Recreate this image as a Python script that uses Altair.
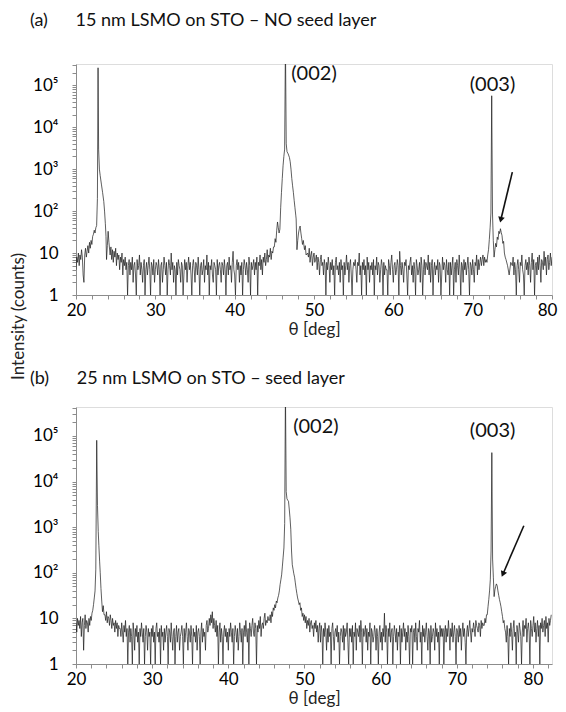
import altair as alt
import pandas as pd

FONT = "Lato"
STEP = 0.1

# ---------------- Panel (a): 15 nm LSMO on STO - NO seed layer ----------------
A_BG0_START = 20.0
A_BG0 = [4, 8, 6, 10, 5, 9, 7, 12, 8, 3, 2, 9, 13, 8, 11, 15, 10, 18, 13, 20, 16, 25]
A_P1_T = [22.2, 22.3, 22.4, 22.5, 22.6, 22.7, 22.78, 22.85, 22.95, 23.05, 23.2, 23.35,
          23.5, 23.6, 23.7, 23.78, 23.85, 23.95, 24.05, 24.15]
A_P1_Y = [28, 35, 30, 40, 45, 200, 260000, 3000, 1000, 700, 440, 280, 170, 100, 50, 25,
          7, 15, 33, 18]
A_BG1_START = 24.3
A_BG1 = [9, 14, 7, 12, 6, 11, 8, 13, 5, 10,
         7, 9, 4, 8, 6, 10, 3, 7, 5, 8,
         4, 6, 1, 5, 7, 3, 6, 4, 8, 2, 5, 6, 3, 1, 7, 4, 5, 9, 3, 6,
         4, 2, 5, 7, 1, 4, 6, 3, 5, 8, 4, 1, 6, 5, 3, 7, 2, 4, 6, 5,
         3, 7, 4, 1, 5, 6, 2, 4, 8, 5, 3, 6, 1, 4, 7, 5, 3, 10, 4, 6,
         2, 5, 4, 1, 6, 3, 7, 5, 4, 2, 6, 5, 1, 3, 7, 4, 6, 2, 5, 8,
         4, 6, 3, 1, 5, 7, 4, 2, 6, 5, 3, 8, 4, 1, 5, 6, 3, 4, 7, 2,
         5, 4, 9, 3, 6, 1, 5, 4, 7, 3, 2, 6, 5, 4, 1, 7, 3, 5, 6, 4,
         2, 6, 5, 3, 7, 4, 1, 5, 6, 3, 8, 4, 5, 2, 6, 11, 4, 3, 1, 5,
         7, 4, 6, 2, 5, 3, 6, 1, 4, 7, 5, 3, 6, 4, 2, 8, 5, 1, 6, 4,
         5, 7, 3, 6, 4, 8, 1, 6, 5, 9, 4, 7, 3, 8, 6, 10, 5, 7, 12, 6,
         9, 8, 13, 7, 11, 10, 14]
A_P2_T = [45.0, 45.1, 45.2, 45.3, 45.4, 45.5, 45.6, 45.7, 45.8, 45.9, 46.0, 46.1, 46.2,
          46.3, 46.4, 46.5, 46.6, 46.75, 46.9, 47.0, 47.1, 47.2, 47.3, 47.4, 47.5, 47.6,
          47.7, 47.75, 47.85, 47.95, 48.05, 48.15, 48.25, 48.35, 48.45, 48.55, 48.65,
          48.8, 48.9, 49.0]
A_P2_Y = [14, 22, 18, 35, 55, 40, 30, 37, 120, 280, 600, 1200, 2000, 3000, 1000000,
          4000, 2600, 2300, 1900, 1500, 1000, 600, 400, 280, 180, 120, 80, 65, 12, 20,
          30, 38, 44, 30, 22, 16, 20, 12, 15, 9]
A_BG2_START = 49.2
A_BG2 = [10, 8, 13, 6, 9, 11, 5, 8, 10, 6,
         7, 9, 4, 8, 6, 3, 7, 9, 5, 6,
         3, 7, 5, 1, 6, 4, 8, 5, 2, 6, 4, 7, 3, 5, 1, 6, 8, 4, 5, 3,
         6, 2, 7, 4, 5, 1, 6, 3, 5, 9, 4, 6, 2, 5, 7, 3, 1, 4, 6, 5,
         7, 4, 2, 6, 5, 10, 3, 5, 1, 6, 4, 7, 3, 5, 1, 8, 4, 6, 2, 5,
         4, 6, 3, 7, 1, 5, 4, 8, 3, 6, 5, 2, 4, 7, 5, 1, 6, 3, 5, 4,
         4, 1, 7, 5, 3, 6, 9, 4, 2, 5, 6, 3, 4, 7, 5, 1, 11, 5, 3, 6,
         4, 2, 6, 5, 7, 3, 1, 5, 4, 6, 8, 3, 5, 2, 6, 4, 1, 7, 5, 3,
         4, 6, 2, 8, 5, 1, 4, 7, 3, 6, 5, 4, 9, 3, 6, 2, 5, 7, 1, 4,
         6, 3, 5, 4, 7, 2, 6, 5, 1, 3, 8, 4, 6, 5, 2, 7, 4, 3, 6, 1,
         6, 3, 5, 8, 1, 4, 6, 2, 7, 5, 3, 9, 4, 1, 6, 5, 2, 7, 4, 6,
         3, 5, 8, 4, 1, 6, 5, 3, 7, 4, 2, 6, 5, 9, 3, 7, 4, 6, 8, 5,
         7, 9, 5, 8, 6, 7]
A_P3_T = [71.8, 71.9, 72.0, 72.1, 72.2, 72.3, 72.4, 72.5, 72.6, 72.7, 72.8, 72.9, 73.0,
          73.1, 73.2, 73.3, 73.4, 73.5, 73.6, 73.7, 73.8, 73.9, 74.0, 74.1, 74.2, 74.4,
          74.6, 74.8]
A_P3_Y = [6, 9, 12, 21, 40, 90, 56000, 85, 20, 8, 12, 17, 14, 24, 21, 33, 29, 38, 31, 26,
          17, 19, 10, 8, 7, 5, 3, 6]
A_BG3_START = 75.0
A_BG3 = [5, 8, 3, 6, 4, 1, 5, 7, 4, 2, 6, 5, 9, 4, 3, 1, 5, 7, 4, 6,
         3, 8, 5, 2, 6, 10, 4, 7, 1, 5, 6, 3, 8, 4, 9, 5, 2, 7, 6, 4,
         11, 5, 8, 3, 7, 9, 4, 6, 10, 5, 8]

# ---------------- Panel (b): 25 nm LSMO on STO - seed layer ----------------
B_BG0_START = 20.0
B_BG0 = [8, 5, 10, 7, 9, 6, 11, 4, 8, 10, 2, 7, 12, 6, 9, 8, 5, 10, 7, 11, 9, 13]
B_P1_T = [22.2, 22.3, 22.4, 22.5, 22.6, 22.72, 22.82, 22.92, 23.0, 23.1, 23.18, 23.28,
          23.38, 23.48, 23.58, 23.68]
B_P1_Y = [15, 20, 28, 40, 120, 80000, 3000, 800, 400, 180, 100, 45, 24, 14, 19, 12]
B_BG1_START = 23.8
B_BG1 = [12, 9, 14, 8, 11, 10, 7, 12, 9, 6,
         10, 7, 8, 5, 9, 6, 8, 4, 7, 6,
         6, 4, 8, 5, 3, 7, 5, 9, 4, 6, 1, 5, 7, 3, 6, 4, 1, 8, 5, 2,
         6, 4, 7, 3, 5, 1, 6, 4, 8, 5, 3, 6, 1, 4, 7, 5, 2, 6, 4, 5,
         1, 6, 4, 7, 3, 5, 1, 6, 8, 4, 5, 3, 6, 1, 7, 4, 5, 2, 6, 3,
         5, 7, 4, 1, 6, 5, 3, 8, 4, 2, 5, 6, 1, 4, 7, 3, 5, 6, 2, 4,
         5, 7, 4, 1, 6, 3, 5, 8, 4, 2, 6, 5, 3, 7, 4, 1, 6, 4, 5, 3,
         7, 2, 5, 6, 4, 1, 5, 8, 3, 6, 4, 5, 2, 7, 9, 5, 6, 10, 7, 12,
         8, 14, 6, 10, 7, 5, 9, 4, 7, 1, 5, 8, 3, 6, 4, 1, 5, 7, 4, 6,
         3, 5, 2, 6, 4, 8, 5, 3, 6, 1, 4, 7, 5, 3, 6, 2, 4, 8, 5, 3,
         6, 1, 5, 7, 4, 9, 5, 3, 6, 1, 8, 6, 4, 7, 10, 5, 4, 8, 6, 1,
         7, 5, 9, 6, 11, 4, 7, 8, 6, 10, 13, 7, 9, 8, 11, 9]
B_P2_T = [45.4, 45.5, 45.6, 45.7, 45.8, 45.9, 46.0, 46.1, 46.2, 46.3,
          46.4, 46.5, 46.6, 46.7, 46.8, 46.9, 47.0, 47.1, 47.2, 47.3,
          47.4, 47.5, 47.6, 47.7, 47.8, 47.9, 48.0, 48.1, 48.2, 48.3,
          48.4, 48.5, 48.6, 48.7, 48.8, 48.9, 49.0, 49.1, 49.2, 49.3,
          49.4, 49.5, 49.6, 49.7, 49.8, 49.9, 50.0]
B_P2_Y = [9, 12, 8, 14, 11, 17, 15, 20, 17, 24,
          22, 28, 32, 40, 55, 70, 90, 140, 220, 350,
          1200, 1000000, 6000, 4200, 3900, 3700, 2500, 1600, 900, 300,
          150, 120, 95, 80, 60, 45, 35, 28, 24, 20,
          22, 15, 17, 11, 13, 9, 12]
B_BG2_START = 50.1
B_BG2 = [8, 11, 6, 9, 7, 10, 5, 8, 9, 6,
         7, 4, 8, 6, 9, 5, 7, 3, 6, 8,
         3, 7, 5, 1, 6, 4, 8, 5, 2, 6, 3, 7, 4, 5, 1, 6, 8, 4, 2, 5,
         6, 4, 7, 3, 5, 1, 4, 6, 5, 3, 7, 2, 6, 4, 5, 8, 3, 1, 6, 4,
         6, 3, 7, 1, 5, 4, 8, 2, 6, 5, 4, 7, 3, 9, 5, 1, 6, 4, 5, 7,
         3, 6, 2, 5, 4, 8, 1, 6, 5, 3, 4, 7, 5, 2, 6, 4, 1, 5, 7, 3,
         5, 2, 6, 4, 13, 3, 7, 5, 1, 6, 4, 8, 3, 5, 6, 1, 4, 7, 5, 3,
         6, 2, 5, 4, 7, 1, 6, 3, 5, 8, 4, 6, 2, 5, 3, 7, 4, 1, 6, 5,
         7, 1, 5, 6, 3, 8, 4, 2, 6, 5, 9, 3, 5, 1, 7, 4, 6, 3, 5, 8,
         4, 2, 6, 5, 1, 7, 3, 4, 6, 5, 2, 8, 4, 6, 3, 5, 1, 7, 4, 6,
         4, 6, 1, 5, 7, 3, 6, 4, 9, 5, 2, 6, 4, 8, 3, 5, 7, 4, 1, 6,
         5, 3, 7, 4, 6, 2, 5, 8, 4, 6, 3, 1, 5, 7, 4, 6, 9, 5, 3, 6,
         5, 8, 6, 4, 9, 7, 6, 5, 8, 7, 4, 9, 6, 8, 7]
B_P3_T = [73.6, 73.7, 73.8, 73.9, 74.0, 74.1, 74.2, 74.3, 74.4, 74.5,
          74.6, 74.7, 74.8, 74.9, 75.0, 75.1, 75.2, 75.3, 75.4, 75.5,
          75.6, 75.7, 75.8, 75.9, 76.0, 76.1, 76.2, 76.3]
B_P3_Y = [7, 10, 8, 12, 12, 18, 26, 40, 70, 300,
          43000, 200, 80, 30, 42, 50, 57, 52, 40, 32,
          26, 22, 18, 14, 11, 8, 9, 6]
B_BG3_START = 76.4
B_BG3 = [5, 3, 7, 4, 1, 6, 4, 8, 5, 2, 6, 9, 4, 5, 1, 7, 5, 3, 8, 6,
         4, 1, 5, 9, 4, 7, 6, 10, 3, 6, 8, 5, 1, 9, 6, 4, 7, 11, 5, 8,
         3, 6, 9, 4, 7, 1, 8, 6, 10, 5, 7, 9, 4, 11, 6, 8, 3, 10, 7, 9,
         12]

# ---------------- annotations ----------------
A_LABELS = ["(002)", "(003)"]
A_LABEL_X = [50.0, 72.5]
A_LABEL_Y = [180000, 100000]
B_LABELS = ["(002)", "(003)"]
B_LABEL_X = [51.5, 74.7]
B_LABEL_Y = [158000, 129000]
A_ARROW = {"x": 75.0, "y": 850, "x2": 73.55, "y2": 62, "angle": 13.5}
B_ARROW = {"x": 78.8, "y": 1070, "x2": 76.05, "y2": 93, "angle": 23}

NB = "\u00a0"
TITLE_A = "(a)" + NB * 6 + "15 nm LSMO on STO \u2013 NO seed layer"
TITLE_B = "(b)" + NB * 6 + "25 nm LSMO on STO \u2013 seed layer"
Y_TITLE = "Intensity (counts)"
X_TITLE = "\u03b8 [deg]"
Y_LABEL_TEXT = {1: "1", 10: "10", 100: "10\u00b2", 1000: "10\u00b3", 10000: "10\u2074",
                100000: "10\u2075"}


def seg(start, vals):
    return [(round(start + i * STEP, 3), v) for i, v in enumerate(vals)]


def build(parts):
    rows = []
    for p in parts:
        rows.extend(p)
    return pd.DataFrame(rows, columns=["theta", "counts"])


df_a = build([seg(A_BG0_START, A_BG0), list(zip(A_P1_T, A_P1_Y)),
              seg(A_BG1_START, A_BG1), list(zip(A_P2_T, A_P2_Y)),
              seg(A_BG2_START, A_BG2), list(zip(A_P3_T, A_P3_Y)),
              seg(A_BG3_START, A_BG3)])
df_b = build([seg(B_BG0_START, B_BG0), list(zip(B_P1_T, B_P1_Y)),
              seg(B_BG1_START, B_BG1), list(zip(B_P2_T, B_P2_Y)),
              seg(B_BG2_START, B_BG2), list(zip(B_P3_T, B_P3_Y)),
              seg(B_BG3_START, B_BG3)])

y_label_expr = " : ".join(
    f"datum.value == {k} ? '{v}'" for k, v in Y_LABEL_TEXT.items()) + " : ''"
x_label_expr = "datum.value % 10 == 0 ? datum.label : ''"

AXIS_GRAY = "#8c8c8c"


def panel(df, xdom, ymax, width, height, title, title_offset, labels, lx, ly, arrow,
          with_ytitle, last_label_shift):
    yticks = [m * 10 ** e for e in range(0, 6) for m in range(1, 10) if m * 10 ** e <= ymax]
    xticks = list(range(20, int(xdom[1]) + 1, 2))
    xs = alt.Scale(domain=xdom, nice=False, zero=False)
    ys = alt.Scale(type="log", domain=[1, ymax], nice=False)
    yaxis_kw = dict(values=yticks, labelExpr=y_label_expr, tickSize=4, labelPadding=14,
                    labelFontSize=17, labelFont=FONT, labelColor="black",
                    labelOverlap=False, labelFlush=False,
                    domainColor=AXIS_GRAY, tickColor=AXIS_GRAY, grid=False)
    if with_ytitle:
        yaxis_kw.update(title=Y_TITLE, titleFont=FONT, titleFontSize=17,
                        titleFontWeight="normal", titleColor="#222222", titleX=-58,
                        titleY=252, titleAngle=270, titleBaseline="middle",
                        titleAlign="center")
    else:
        yaxis_kw.update(title=None)
    yaxis = alt.Axis(**yaxis_kw)
    xaxis = alt.Axis(values=xticks, labelExpr=x_label_expr,
                     labelOverlap=False, labelFlush=False, labelSeparation=0,
                     labelOffset={"condition": {"test": "datum.value == 80",
                                                "value": last_label_shift},
                                  "value": 0},
                     tickSize=4, labelPadding=3, labelFontSize=17, labelFont=FONT,
                     labelColor="black", domainColor=AXIS_GRAY, tickColor=AXIS_GRAY,
                     grid=False, title=X_TITLE, titleFont=FONT, titleFontSize=17,
                     titleFontWeight="normal", titlePadding=3, titleColor="#222222")
    ytitle = Y_TITLE if with_ytitle else None
    line = alt.Chart(df).mark_line(color="#1a1a1a", strokeWidth=0.7, clip=True).encode(
        x=alt.X("theta:Q", scale=xs, axis=xaxis, title=X_TITLE),
        y=alt.Y("counts:Q", scale=ys, axis=yaxis, title=ytitle),
    )
    ldf = pd.DataFrame({"text": labels, "theta": lx, "counts": ly})
    txt = alt.Chart(ldf).mark_text(font=FONT, fontSize=20, color="#111111",
                                   align="center", baseline="middle").encode(
        x=alt.X("theta:Q", scale=xs, axis=xaxis, title=X_TITLE),
        y=alt.Y("counts:Q", scale=ys, axis=yaxis, title=ytitle),
        text="text:N")
    adf = pd.DataFrame([{"theta": arrow["x"], "counts": arrow["y"],
                         "theta2": arrow["x2"], "counts2": arrow["y2"]}])
    shaft = alt.Chart(adf).mark_rule(color="#111111", strokeWidth=1.6).encode(
        x=alt.X("theta:Q", scale=xs, axis=xaxis, title=X_TITLE),
        y=alt.Y("counts:Q", scale=ys, axis=yaxis, title=ytitle),
        x2="theta2:Q", y2="counts2:Q")
    head = alt.Chart(adf).mark_point(shape="triangle-down", filled=True, size=45,
                                     color="#111111", opacity=1,
                                     angle=arrow["angle"]).encode(
        x=alt.X("theta2:Q", scale=xs, axis=xaxis, title=X_TITLE),
        y=alt.Y("counts2:Q", scale=ys, axis=yaxis, title=ytitle))
    return alt.layer(line, txt, shaft, head).properties(
        width=width, height=height,
        title=alt.TitleParams(text=title, anchor="start", frame="group", dx=-46,
                              fontSize=18, font=FONT, fontWeight="normal",
                              color="#111111", offset=title_offset),
    )


pa = panel(df_a, [20, 80], 3.2e5, 476, 231, TITLE_A, 26, A_LABELS, A_LABEL_X, A_LABEL_Y,
           A_ARROW, True, -5)
pb = panel(df_b, [20, 82.5], 4.3e5, 476, 257, TITLE_B, 11, B_LABELS, B_LABEL_X, B_LABEL_Y,
           B_ARROW, False, 0)

chart = alt.vconcat(pa, pb, spacing=112, bounds="flush").properties(
    padding={"left": 0, "top": 3, "right": 0, "bottom": 0}
).configure_view(stroke=AXIS_GRAY, strokeWidth=1).configure(background="white")

chart.save("out.html", embed_options={"renderer": "svg", "actions": False})
